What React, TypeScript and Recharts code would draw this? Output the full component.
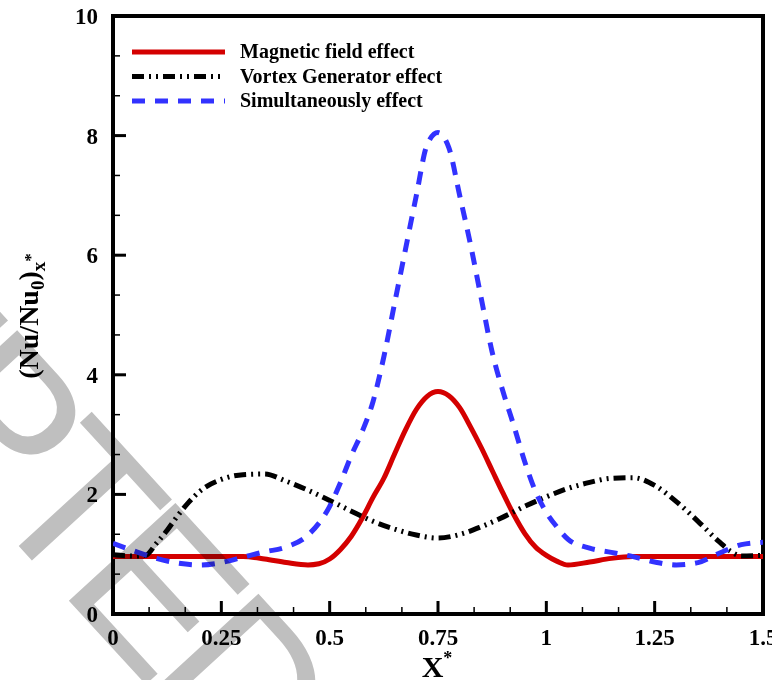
import React from "react";
import { LineChart, Line, XAxis, YAxis, ReferenceArea, Legend } from "recharts";

// Magnetic field effect (red, solid)
const magneticX = [
  0, 0.05, 0.1, 0.15, 0.2, 0.25, 0.3, 0.35, 0.4, 0.45,
  0.475, 0.5, 0.525, 0.55, 0.575, 0.6, 0.625, 0.65, 0.675, 0.7, 0.725, 0.75,
  0.775, 0.8, 0.825, 0.85, 0.875, 0.9, 0.925, 0.95, 0.975, 1.0, 1.025, 1.05,
  1.1, 1.15, 1.2, 1.25, 1.3, 1.35, 1.4, 1.45, 1.5,
];
const magneticY = [
  0.96, 0.96, 0.96, 0.96, 0.96, 0.96, 0.96, 0.92, 0.86, 0.82,
  0.84, 0.92, 1.08, 1.3, 1.6, 1.95, 2.27, 2.68, 3.08, 3.42, 3.64, 3.72,
  3.65, 3.45, 3.13, 2.78, 2.4, 2.02, 1.66, 1.35, 1.12, 0.98, 0.88, 0.82,
  0.87, 0.93, 0.96, 0.96, 0.96, 0.96, 0.96, 0.96, 0.96,
];

// Vortex Generator effect (black, dash-dot-dot)
const vortexX = [
  0, 0.05, 0.075, 0.1, 0.125, 0.15, 0.175, 0.2,
  0.25, 0.3, 0.35, 0.4, 0.45, 0.5, 0.55, 0.6, 0.65, 0.7, 0.75, 0.8,
  0.85, 0.9, 0.95, 1.0, 1.05, 1.1, 1.15, 1.2, 1.25, 1.3, 1.35, 1.4,
  1.425, 1.45, 1.5,
];
const vortexY = [
  0.99, 0.97, 0.98, 1.18, 1.4, 1.65, 1.87, 2.05,
  2.25, 2.33, 2.34, 2.22, 2.07, 1.9, 1.72, 1.55, 1.42, 1.32, 1.27, 1.33,
  1.46, 1.62, 1.8, 1.96, 2.1, 2.2, 2.27, 2.28, 2.15, 1.88, 1.55, 1.2,
  1.05, 0.97, 0.98,
];

// Simultaneously effect (blue, dashed)
const simulX = [
  0, 0.05, 0.1, 0.15, 0.2, 0.25, 0.3, 0.35, 0.4, 0.45, 0.5,
  0.525, 0.55, 0.575, 0.6, 0.625, 0.65, 0.675, 0.7, 0.725, 0.75, 0.775,
  0.8, 0.825, 0.85, 0.875, 0.9, 0.925, 0.95, 0.975, 1.0, 1.025, 1.05,
  1.1, 1.15, 1.2, 1.25, 1.3, 1.35, 1.4, 1.45, 1.5,
];
const simulY = [
  1.18, 1.05, 0.93, 0.85, 0.82, 0.86, 0.95, 1.04, 1.12, 1.32, 1.8,
  2.2, 2.65, 3.05, 3.55, 4.3, 5.2, 6.1, 7.0, 7.85, 8.05, 7.8,
  7.0, 6.18, 5.27, 4.38, 3.72, 3.15, 2.55, 2.05, 1.7, 1.45, 1.25,
  1.1, 1.03, 0.96, 0.87, 0.82, 0.86, 1.02, 1.16, 1.2,
];

// axis ticks: majors every 0.25 / 2, with two minors in between
const xTicks = Array.from({ length: 19 }, (_, i) => (i * 0.25) / 3);
const yTicks = Array.from({ length: 16 }, (_, i) => (i * 2) / 3);

const toPoints = (xs: number[], ys: number[]) => xs.map((x, i) => ({ x, y: ys[i] }));

const series = [
  { name: "Magnetic field effect", data: toPoints(magneticX, magneticY), color: "#d40000", dash: undefined as string | undefined },
  { name: "Vortex Generator effect", data: toPoints(vortexX, vortexY), color: "#000000", dash: "12 5 2 5 2 5" },
  { name: "Simultaneously effect", data: toPoints(simulX, simulY), color: "#3232ff", dash: "13 10" },
];

const serif = "'Liberation Serif', 'Times New Roman', serif";

const isMajor = (v: number, step: number) => Math.abs(v / step - Math.round(v / step)) < 1e-6;
const fmt = (v: number) => String(Math.round(v * 100) / 100);

const XTick = (props: any) => {
  const { x, y, payload } = props;
  const major = isMajor(payload.value, 0.25);
  return (
    <g>
      <line x1={x} y1={y} x2={x} y2={y - (major ? 13 : 7)} stroke="#000" strokeWidth={major ? 3 : 1.5} />
      {major && (
        <text x={x} y={y + 31} textAnchor="middle" fontFamily={serif} fontWeight="bold" fontSize={23} fill="#000">
          {fmt(payload.value)}
        </text>
      )}
    </g>
  );
};

const YTick = (props: any) => {
  const { x, y, payload } = props;
  const major = isMajor(payload.value, 2);
  return (
    <g>
      <line x1={x} y1={y} x2={x + (major ? 13 : 7)} y2={y} stroke="#000" strokeWidth={major ? 3 : 1.5} />
      {major && (
        <text x={x - 15} y={y + 8} textAnchor="end" fontFamily={serif} fontWeight="bold" fontSize={23} fill="#000">
          {fmt(payload.value)}
        </text>
      )}
    </g>
  );
};

const YLabel = () => (
  <text transform="translate(38, 316) rotate(-90)" textAnchor="middle" fontFamily={serif} fontWeight="bold" fontSize={28} fill="#000">
    (Nu/Nu
    <tspan fontSize={19} dy={6}>0</tspan>
    <tspan fontSize={28} dy={-6}>)</tspan>
    <tspan fontSize={19} dy={7}>x</tspan>
    <tspan fontSize={17} dy={-9}>*</tspan>
  </text>
);

const XLabel = () => (
  <text x={437} y={677} textAnchor="middle" fontFamily={serif} fontWeight="bold" fontSize={30} fill="#000">
    X<tspan fontSize={18} dy={-13}>*</tspan>
  </text>
);

const LegendBox = () => (
  <svg width={420} height={90} style={{ display: "block" }}>
    {series.map((s, i) => {
      const cy = 22 + i * 24.5;
      return (
        <g key={s.name}>
          <line x1={12} y1={cy} x2={105} y2={cy} stroke={s.color} strokeWidth={5} strokeDasharray={s.dash} />
          <text x={120} y={cy + 6} fontFamily={serif} fontWeight="bold" fontSize={20} fill="#000">
            {s.name}
          </text>
        </g>
      );
    })}
  </svg>
);

// the grey "accepted manuscript" stamp running across the lower left
const Watermark = () => (
  <svg
    width={772}
    height={680}
    style={{ position: "absolute", left: 0, top: 0, pointerEvents: "none", mixBlendMode: "multiply" }}
  >
    <g transform="translate(-18, 506) rotate(47.5)" fontFamily="'Liberation Sans', Arial, sans-serif" fontSize={210} fill="#bfbfbf">
      <text x={-123} y={0} textAnchor="end" letterSpacing={-17}>ACCE</text>
      <text x={-123} y={0}>P</text>
      <text x={0} y={0} letterSpacing={-17}>TED MANUSCRIPT</text>
    </g>
  </svg>
);

export default function App() {
  return (
    <div style={{ position: "fixed", left: 0, top: 0, width: 772, height: 680, overflow: "hidden", background: "#fff" }}>
      <LineChart width={772} height={680} margin={{ top: 16, right: 9, bottom: 26, left: 53 }}>
        <XAxis
          dataKey="x"
          type="number"
          domain={[0, 1.5]}
          ticks={xTicks}
          interval={0}
          allowDataOverflow
          axisLine={false}
          tickLine={false}
          tickSize={0}
          tickMargin={0}
          height={40}
          tick={<XTick />}
          label={<XLabel />}
        />
        <YAxis
          dataKey="y"
          type="number"
          domain={[0, 10]}
          ticks={yTicks}
          interval={0}
          allowDataOverflow
          axisLine={false}
          tickLine={false}
          tickSize={0}
          tickMargin={0}
          width={60}
          tick={<YTick />}
          label={<YLabel />}
        />
        <ReferenceArea x1={0} x2={1.5} y1={0} y2={10} fill="none" stroke="#000" strokeWidth={4} fillOpacity={0} />
        {series.map((s) => (
          <Line
            key={s.name}
            data={s.data}
            dataKey="y"
            name={s.name}
            type="monotone"
            stroke={s.color}
            strokeWidth={5}
            strokeDasharray={s.dash}
            dot={false}
            activeDot={false}
            isAnimationActive={false}
          />
        ))}
        <Legend
          layout="vertical"
          align="center"
          verticalAlign="middle"
          wrapperStyle={{ left: 120, top: 30, width: 420 }}
          content={<LegendBox />}
        />
      </LineChart>
      <Watermark />
    </div>
  );
}
